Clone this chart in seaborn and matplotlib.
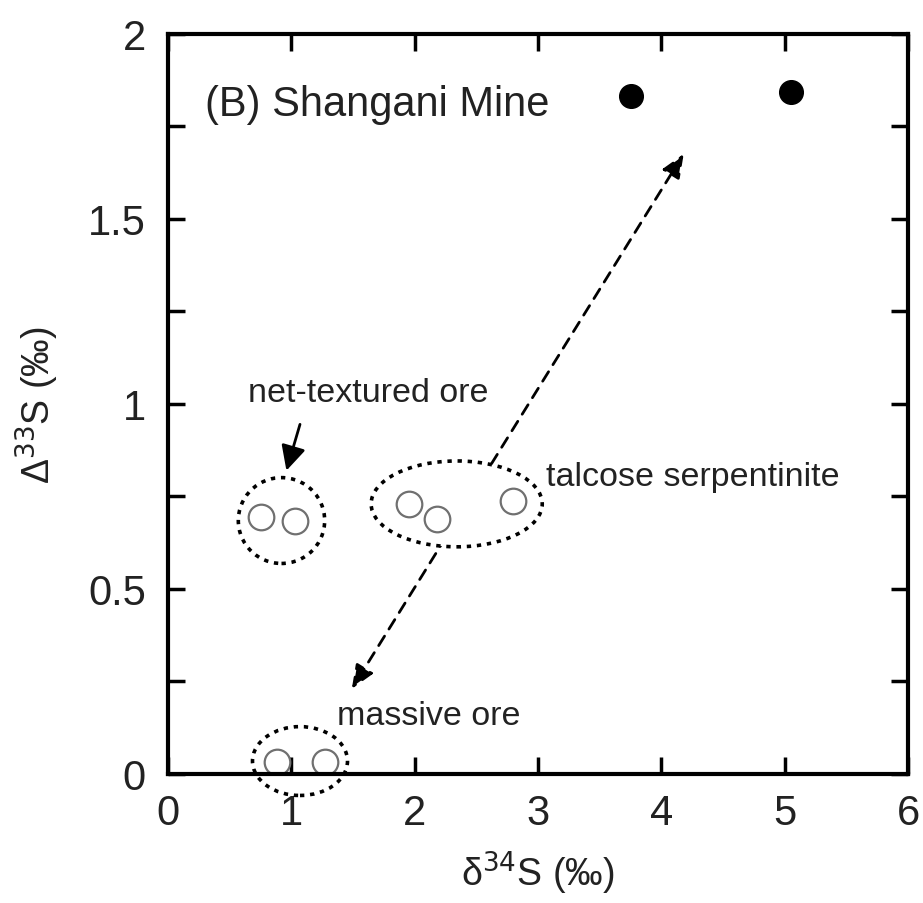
import matplotlib
matplotlib.use("Agg")
import matplotlib.pyplot as plt
from matplotlib.patches import Ellipse
import seaborn as sns
import pandas as pd

# data
open_d34 = [0.75, 1.03, 1.95, 2.18, 2.80, 0.88, 1.27]
open_D33 = [0.695, 0.684, 0.73, 0.69, 0.738, 0.032, 0.032]
filled_d34 = [3.75, 5.05]
filled_D33 = [1.832, 1.843]

x_ticks = [0, 1, 2, 3, 4, 5, 6]
y_ticks = [0, 0.25, 0.5, 0.75, 1.0, 1.25, 1.5, 1.75, 2.0]
y_ticklabels = ["0", "", "0.5", "", "1", "", "1.5", "", "2"]

sns.set_theme(style="ticks")
plt.rcParams['font.family'] = ['Liberation Sans', 'DejaVu Sans']

fig = plt.figure(figsize=(9.23, 9.04), dpi=100)
ax = fig.add_axes([0.182, 0.1427, 0.802, 0.8186])

df_open = pd.DataFrame({"x": open_d34, "y": open_D33})
df_fill = pd.DataFrame({"x": filled_d34, "y": filled_D33})

sns.scatterplot(data=df_open, x="x", y="y", ax=ax, s=340, marker="o",
                facecolor="white", edgecolor="#707070", linewidth=1.6, zorder=6)
sns.scatterplot(data=df_fill, x="x", y="y", ax=ax, s=290, marker="o",
                color="black", edgecolor="black", linewidth=1, zorder=6)

# dashed double arrow
ax.annotate("", xy=(1.49, 0.23), xytext=(4.18, 1.676),
            arrowprops=dict(arrowstyle="<|-|>,head_length=0.6,head_width=0.25",
                            linestyle=(0, (4, 3)), lw=2,
                            color="black", mutation_scale=24,
                            shrinkA=0, shrinkB=0), zorder=2)

# dotted ellipses
ell_kw = dict(edgecolor="black", linestyle=(0, (1.2, 1.6)), lw=2.6, zorder=4)
ax.add_patch(Ellipse((0.92, 0.685), 0.70, 0.232, facecolor="none", **ell_kw))
ax.add_patch(Ellipse((2.34, 0.73), 1.387, 0.232, facecolor="white", **ell_kw))
ax.add_patch(Ellipse((1.07, 0.035), 0.77, 0.186, facecolor="none", clip_on=False, **ell_kw))

# labels
ax.text(0.30, 1.81, "(B) Shangani Mine", fontsize=30, va="center", ha="left", color="#222222")
ax.text(1.62, 1.03, "net-textured ore", fontsize=24.5, va="center", ha="center", color="#222222")
ax.annotate("", xy=(0.96, 0.82), xytext=(1.07, 0.945),
            arrowprops=dict(arrowstyle="-|>,head_length=0.5,head_width=0.25", lw=2,
                            color="black", mutation_scale=30,
                            shrinkA=0, shrinkB=0))
ax.text(3.06, 0.805, "talcose serpentinite", fontsize=24.5, va="center", ha="left", color="#222222")
ax.text(1.37, 0.158, "massive ore", fontsize=24.5, va="center", ha="left", color="#222222")

ax.set_xlim(0, 6)
ax.set_ylim(0, 2)
ax.set_xticks(x_ticks)
ax.set_xticklabels([str(v) for v in x_ticks])
ax.set_yticks(y_ticks)
ax.set_yticklabels(y_ticklabels)
ax.tick_params(axis="both", which="major", direction="in", length=12, width=2.5,
               top=True, right=True, labelsize=30, pad=14, colors="black",
               labelcolor="#222222")
ax.tick_params(axis="y", pad=16)
for sp in ax.spines.values():
    sp.set_linewidth(3)
    sp.set_color("black")
    sp.set_zorder(7)

ax.set_xlabel("δ$^{34}$S (‰)", fontsize=27, labelpad=11, color="#222222")
ax.set_ylabel("Δ$^{33}$S (‰)", fontsize=27, labelpad=14, color="#222222")
ax.yaxis.set_label_coords(-0.145, 0.5)

fig.savefig("out.png", dpi=100)
